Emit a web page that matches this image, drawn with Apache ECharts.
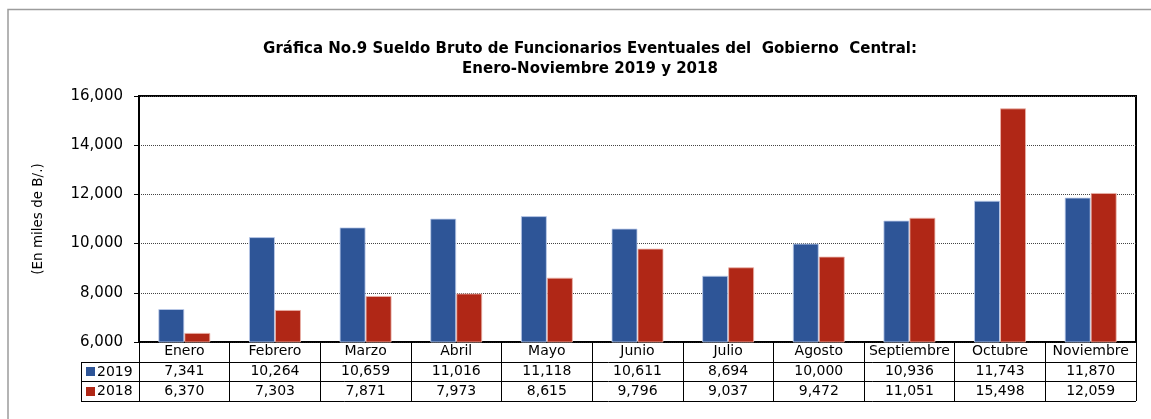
<!DOCTYPE html>
<html>
<head>
<meta charset="utf-8">
<script src="https://cdn.jsdelivr.net/npm/echarts@6/dist/echarts.min.js"></script>
<style>
  html, body { margin: 0; padding: 0; background: #fff; }
  #chart { width: 1151px; height: 419px; }
</style>
</head>
<body>
<div id="chart"></div>
<script>
const categories = ['Enero', 'Febrero', 'Marzo', 'Abril', 'Mayo', 'Junio', 'Julio', 'Agosto', 'Septiembre', 'Octubre', 'Noviembre'];
const values2019 = [7341, 10264, 10659, 11016, 11118, 10611, 8694, 10000, 10936, 11743, 11870];
const values2018 = [6370, 7303, 7871, 7973, 8615, 9796, 9037, 9472, 11051, 15498, 12059];
const seriesNames = ['2019', '2018'];
const seriesColors = ['#2E5597', '#B02716'];
const yMin = 6000, yMax = 16000, yStep = 2000;
const titleLines = ['Gráfica No.9 Sueldo Bruto de Funcionarios Eventuales del  Gobierno  Central:', 'Enero-Noviembre 2019 y 2018'];
const yName = '(En miles de B/.)';

const FONT = 'DejaVu Sans';
const W = 1151, H = 419;
const G = { left: 139, right: 15, top: 96, bottom: 77 };
const plotRight = W - G.right, plotBottom = H - G.bottom;
const rowH = 19.7;
const tableLeft = 81;
const fmt = v => v.toLocaleString('en-US');

const chart = echarts.init(document.getElementById('chart'), null, { renderer: 'canvas' });

const tableGraphics = [];
[1, 2, 3].forEach(i => {
  const y = Math.round(plotBottom + rowH * i) + 0.5;
  tableGraphics.push({ type: 'line', shape: { x1: tableLeft, y1: y, x2: plotRight, y2: y }, style: { stroke: '#000', lineWidth: 1 }, silent: true });
});
tableGraphics.push({ type: 'line', shape: { x1: tableLeft + 0.5, y1: Math.round(plotBottom + rowH), x2: tableLeft + 0.5, y2: Math.round(plotBottom + rowH * 3) + 1 }, style: { stroke: '#000', lineWidth: 1 }, silent: true });
// legend keys inside the table's first column
seriesNames.forEach((name, i) => {
  const cy = plotBottom + rowH * (i + 1.5);
  tableGraphics.push({ type: 'rect', shape: { x: 86, y: Math.round(cy - 4.5), width: 9, height: 9 }, style: { fill: seriesColors[i] }, silent: true });
  tableGraphics.push({ type: 'text', x: 97, y: cy + 0.5, style: { text: name, font: '14px "DejaVu Sans"', fill: '#000', textAlign: 'left', textVerticalAlign: 'middle' }, silent: true });
});

chart.setOption({
  backgroundColor: '#fff',
  animation: false,
  textStyle: { fontFamily: FONT },
  grid: { left: G.left, right: G.right, top: G.top, bottom: G.bottom, show: true, borderColor: '#000', borderWidth: 2, outerBoundsMode: 'none' },
  graphic: [
    { type: 'rect', shape: { x: 8, y: 9.5, width: 1300, height: 600 }, style: { fill: 'none', stroke: '#9c9c9c', lineWidth: 1.5 }, silent: true },
    { type: 'text', x: 590, y: 49, style: { text: titleLines[0], font: 'bold 15px "DejaVu Sans"', fill: '#000', textAlign: 'center', textVerticalAlign: 'middle' } },
    { type: 'text', x: 590, y: 69, style: { text: titleLines[1], font: 'bold 15px "DejaVu Sans"', fill: '#000', textAlign: 'center', textVerticalAlign: 'middle' } },
    ...tableGraphics
  ],
  xAxis: {
    type: 'category',
    data: categories,
    axisLine: { show: true, lineStyle: { color: '#000', width: 1.5 } },
    axisTick: { show: true, length: Math.round(rowH * 3), alignWithLabel: false, interval: 0, lineStyle: { color: '#000', width: 1 } },
    axisLabel: {
      interval: 0, margin: 0,
      formatter: (value, idx) => `{h|${value}}\n{v|${fmt(values2019[idx])}}\n{v|${fmt(values2018[idx])}}`,
      rich: {
        h: { fontFamily: FONT, fontSize: 14, lineHeight: rowH, color: '#000' },
        v: { fontFamily: FONT, fontSize: 14, lineHeight: rowH, color: '#000' }
      }
    },
    splitLine: { show: false }
  },
  yAxis: {
    type: 'value',
    min: yMin, max: yMax, interval: yStep,
    name: yName, nameLocation: 'middle', nameRotate: 90, nameGap: 94,
    nameTextStyle: { fontFamily: FONT, fontSize: 13.5, color: '#000' },
    axisLine: { show: true, lineStyle: { color: '#000', width: 2 } },
    axisTick: { show: true, length: 5, lineStyle: { color: '#000' } },
    axisLabel: { fontFamily: FONT, fontSize: 15, color: '#000', margin: 16, formatter: v => fmt(v) },
    splitLine: { show: true, lineStyle: { color: '#444', type: [1, 1], width: 1 } }
  },
  series: [
    { name: seriesNames[0], type: 'bar', data: values2019, barWidth: 26, barGap: '0%',
      itemStyle: { color: seriesColors[0], borderColor: 'rgba(190,205,235,0.8)', borderWidth: 1 } },
    { name: seriesNames[1], type: 'bar', data: values2018, barWidth: 26, barGap: '0%',
      itemStyle: { color: seriesColors[1], borderColor: 'rgba(235,180,170,0.8)', borderWidth: 1 } }
  ]
});
</script>
</body>
</html>
